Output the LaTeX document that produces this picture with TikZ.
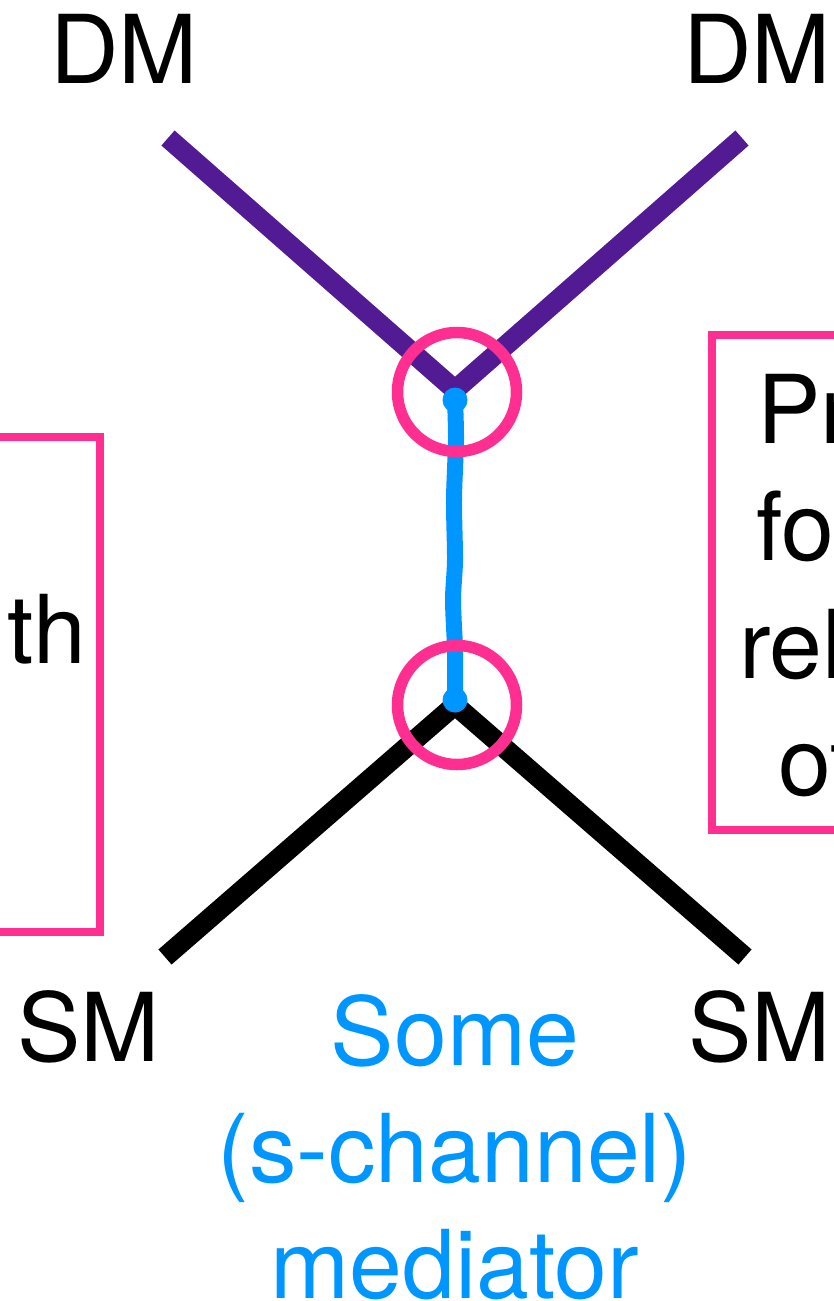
\documentclass[tikz,border=0pt]{standalone}
\usepackage{fontspec}
\setmainfont{TeX Gyre Heros}
\definecolor{grape}{HTML}{531B93}
\definecolor{aqua}{HTML}{0096FF}
\definecolor{strawberry}{HTML}{FF2F92}
\tikzset{
  leg/.style={line width=20pt, line join=miter},
  ring/.style={circle, draw=strawberry, line width=11.5pt, minimum size=119pt, inner sep=0pt},
  panel/.style={draw=strawberry, line width=7.5pt},
  bigtext/.style={font=\fontsize{95}{117}\selectfont, inner sep=0pt},
}
\begin{document}
\begin{tikzpicture}[x=1pt, y=-1pt]
\useasboundingbox (0,0) rectangle (834,1301);
\clip (0,0) rectangle (834,1301);

% vertices and external legs
\coordinate (dmL) at (168,138);
\coordinate (dmR) at (742,138);
\coordinate (vtop) at (455,390);
\coordinate (vbot) at (455,705);
\coordinate (smL) at (165,957);
\coordinate (smR) at (745,957);

% side boxes
\draw[panel] (-300,437) rectangle (100,932);
\draw[panel] (712,335) rectangle (1100,830);

% legs
\draw[leg, grape] (dmL) -- (vtop) -- (dmR);
\draw[leg, black] (smL) -- (vbot) -- (smR);

% mediator propagator
\draw[aqua, line width=16pt, line cap=round, line join=round]
  plot[smooth] coordinates {(455,400) (456,440) (454,500) (455,560) (453,600) (455,650) (455,700)};
\fill[aqua] (455,400) circle (12.5pt);
\fill[aqua] (455,700) circle (12.5pt);

% vertex rings
\node[ring] (ctop) at (457,392) {};
\node[ring] (cbot) at (457,705) {};

% labels
\node[bigtext, anchor=base west] (dm1) at (50,83) {DM};
\node[bigtext, anchor=base west] (dm2) at (683,83) {DM};
\node[bigtext, anchor=base west] (sm1) at (17,1061) {SM};
\node[bigtext, anchor=base west] (sm2) at (688,1061) {SM};

\node[bigtext, text=aqua, anchor=base] (med1) at (455,1065) {Some};
\node[bigtext, text=aqua, anchor=base] (med2) at (455,1182) {(s-channel)};
\node[bigtext, text=aqua, anchor=base] (med3) at (455,1298) {mediator};

% box texts
\node[bigtext, anchor=base east] (lt) at (86,663) {th};
\node[bigtext, anchor=base west] (r1) at (757,443) {Pr};
\node[bigtext, anchor=base west] (r2) at (756,560) {fo};
\node[bigtext, anchor=base west] (r3) at (739,678) {rel};
\node[bigtext, anchor=base west] (r4) at (778,795) {ot};
\end{tikzpicture}
\end{document}
